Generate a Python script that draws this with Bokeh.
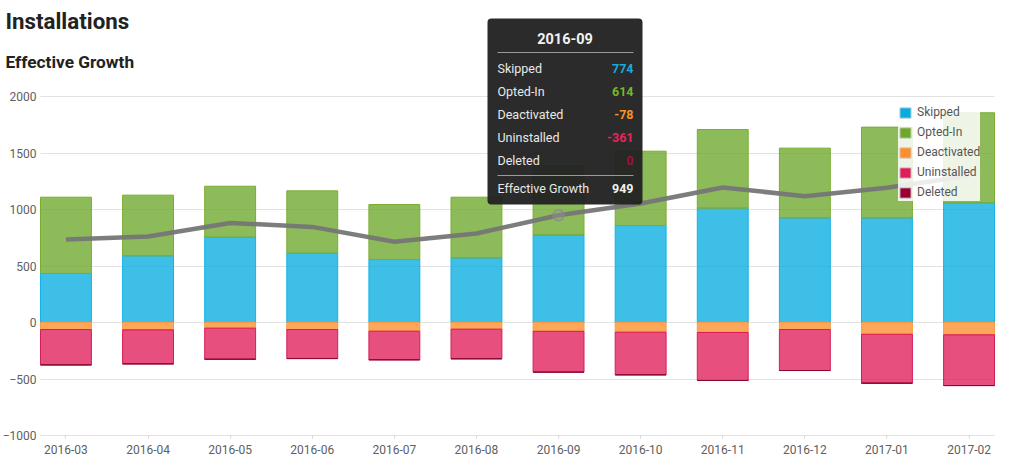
from bokeh.plotting import figure
from bokeh.models import (Range1d, FixedTicker, Label, BoxAnnotation, Legend,
                          LegendItem, ColumnDataSource)
from bokeh.embed import file_html
from bokeh.resources import INLINE

months = ["2016-03", "2016-04", "2016-05", "2016-06", "2016-07", "2016-08",
          "2016-09", "2016-10", "2016-11", "2016-12", "2017-01", "2017-02"]
skipped = [434, 590, 755, 613, 557, 572, 774, 858, 1012, 926, 926, 1059]
opted_in = [675, 537, 451, 552, 487, 537, 614, 658, 696, 617, 803, 797]
deactivated = [-62, -65, -50, -62, -77, -59, -78, -86, -88, -62, -104, -109]
uninstalled = [-313, -301, -275, -257, -253, -262, -361, -377, -425, -363, -433, -449]
deleted = [0, 0, 0, 0, 0, 0, 0, 0, 0, 0, 0, 0]
y_ticks = [-1000, -500, 0, 500, 1000, 1500, 2000]
hover_month = "2016-09"

series_names = ["Skipped", "Opted-In", "Deactivated", "Uninstalled", "Deleted"]
base_colors = ["#06ade0", "#6ea82a", "#fd8e2b", "#e01e5a", "#990033"]
line_colors = ["#13b3e6", "#7aad30", "#fb9a45", "#d41e55", "#8a0a32"]
value_colors = ["#1fa8dc", "#76b82a", "#f7931e", "#e8255d", "#a0103c"]

xs = list(range(len(months)))
growth = [s + o + d + u + de for s, o, d, u, de in
          zip(skipped, opted_in, deactivated, uninstalled, deleted)]

src = ColumnDataSource(dict(x=xs, skipped=skipped, opted_in=opted_in,
                            deactivated=deactivated, uninstalled=uninstalled,
                            deleted=deleted, growth=growth))

# layout geometry (pixels); the frame fills the whole canvas
W, H = 1024, 464
area_left, area_right, area_top, area_bottom = 40, 994, 96, 435
bar_w = 0.62
x0, x1 = -bar_w / 2, len(months) - 1 + bar_w / 2
px_x = (area_right - area_left) / (x1 - x0)
y0, y1 = y_ticks[0], y_ticks[-1]
px_y = (area_bottom - area_top) / (y1 - y0)

p = figure(width=W, height=H, output_backend="svg", toolbar_location=None,
           x_range=Range1d(x0 - area_left / px_x, x1 + (W - area_right) / px_x),
           y_range=Range1d(y0 - (H - area_bottom) / px_y, y1 + area_top / px_y),
           min_border_left=0, min_border_right=0, min_border_top=0,
           min_border_bottom=0)
p.outline_line_color = None
p.background_fill_color = "white"
p.border_fill_color = "white"

p.vbar_stack(["skipped", "opted_in"], x="x", width=bar_w, source=src,
             fill_color=base_colors[:2], line_color=line_colors[:2],
             fill_alpha=0.78, line_width=1)
p.vbar_stack(["deactivated", "uninstalled", "deleted"], x="x", width=bar_w,
             source=src, fill_color=base_colors[2:], line_color=line_colors[2:],
             fill_alpha=0.78, line_width=1)

p.line("x", "growth", source=src, line_color="#767676", line_width=4.5,
       line_alpha=0.95, line_join="round")

hi = months.index(hover_month)
p.scatter(x=[xs[hi]], y=[growth[hi]], size=11, fill_color="#999999",
          fill_alpha=0.35, line_color="#8a8a8a", line_alpha=0.8, line_width=1.5)

# axes (drawn inside the frame at fixed locations)
p.xgrid.visible = False
p.ygrid.grid_line_color = "#e2e2e2"
p.ygrid.grid_line_width = 1
p.ygrid.cross_bounds = (x0, x1)
p.yaxis.ticker = FixedTicker(ticks=y_ticks)
p.yaxis.fixed_location = x0
p.yaxis.axis_line_color = None
p.yaxis.major_tick_line_color = None
p.yaxis.major_tick_out = 0
p.yaxis.major_tick_in = 0
p.yaxis.minor_tick_line_color = None
p.yaxis.major_label_standoff = 4
p.yaxis.major_label_text_font = "Roboto"
p.yaxis.major_label_text_font_size = "12px"
p.yaxis.major_label_text_color = "#606060"

p.xaxis.ticker = FixedTicker(ticks=xs)
p.xaxis.fixed_location = y0
p.xaxis.major_label_overrides = {i: m for i, m in zip(xs, months)}
p.xaxis.axis_line_color = None
p.xaxis.major_tick_line_color = "#d6d6d6"
p.xaxis.major_tick_out = 3
p.xaxis.major_tick_in = 0
p.xaxis.minor_tick_line_color = None
p.xaxis.major_label_standoff = 6
p.xaxis.major_label_text_font = "Roboto"
p.xaxis.major_label_text_font_size = "12px"
p.xaxis.major_label_text_color = "#606060"


def sy(v):
    # pixel measured from the top -> frame screen units (measured from bottom)
    return H - v


# titles
p.add_layout(Label(x=5, y=sy(20), x_units="screen", y_units="screen",
                   text="Installations", text_font="Roboto", text_font_size="22.3px",
                   text_font_style="bold", text_color="#222222",
                   text_baseline="middle", text_align="left"))
p.add_layout(Label(x=5, y=sy(61), x_units="screen", y_units="screen",
                   text="Effective Growth", text_font="Roboto", text_font_size="17.3px",
                   text_font_style="bold", text_color="#222222",
                   text_baseline="middle", text_align="left"))

# legend with hidden proxy renderers
items = []
for name, col, c in zip(series_names,
                        ["skipped", "opted_in", "deactivated", "uninstalled", "deleted"],
                        base_colors):
    r = p.vbar(x="x", top=col, width=bar_w, source=src, fill_color=c,
               line_color="#d0d0d0", line_width=1, visible=False)
    items.append(LegendItem(label=name, renderers=[r]))
legend = Legend(items=items, location=(898, sy(200.5)), padding=4, spacing=3, margin=0,
                glyph_width=14, glyph_height=13, label_height=17, label_standoff=5,
                label_text_font="Roboto", label_text_font_size="12px",
                label_text_color="#555555", background_fill_color="white",
                background_fill_alpha=0.85, border_line_color=None)
p.add_layout(legend)

# tooltip (static hover state)
p.add_layout(BoxAnnotation(left=487, right=642, top=sy(18), bottom=sy(204),
                           left_units="screen", right_units="screen",
                           top_units="screen", bottom_units="screen",
                           fill_color="#222222", fill_alpha=0.96, line_color=None,
                           border_radius=4))
for yy in (52, 175):
    p.add_layout(BoxAnnotation(left=497, right=633, top=sy(yy) + 0.5, bottom=sy(yy) - 0.5,
                               left_units="screen", right_units="screen",
                               top_units="screen", bottom_units="screen",
                               fill_color="#9a9a9a", fill_alpha=1, line_color=None))
p.add_layout(Label(x=564.5, y=sy(38), x_units="screen", y_units="screen",
                   text=months[hi], text_font="Roboto", text_font_size="14.5px",
                   text_font_style="bold", text_color="#f2f2f2",
                   text_baseline="middle", text_align="center"))
row_vals = [skipped[hi], opted_in[hi], deactivated[hi], uninstalled[hi], deleted[hi]]
for k, (name, v, c) in enumerate(zip(series_names, row_vals, value_colors)):
    yy = sy(68 + 23 * k)
    p.add_layout(Label(x=497, y=yy, x_units="screen", y_units="screen", text=name,
                       text_font="Roboto", text_font_size="12.5px", text_color="#e8e8e8",
                       text_baseline="middle", text_align="left"))
    p.add_layout(Label(x=633, y=yy, x_units="screen", y_units="screen", text=str(v),
                       text_font="Roboto", text_font_size="12.5px", text_font_style="bold",
                       text_color=c, text_baseline="middle", text_align="right"))
p.add_layout(Label(x=497, y=sy(188), x_units="screen", y_units="screen",
                   text="Effective Growth", text_font="Roboto", text_font_size="12.5px",
                   text_color="#e8e8e8", text_baseline="middle", text_align="left"))
p.add_layout(Label(x=633, y=sy(188), x_units="screen", y_units="screen", text=str(growth[hi]),
                   text_font="Roboto", text_font_size="12.5px", text_font_style="bold",
                   text_color="#f2f2f2", text_baseline="middle", text_align="right"))

open("out.html", "w").write(file_html(p, INLINE))
